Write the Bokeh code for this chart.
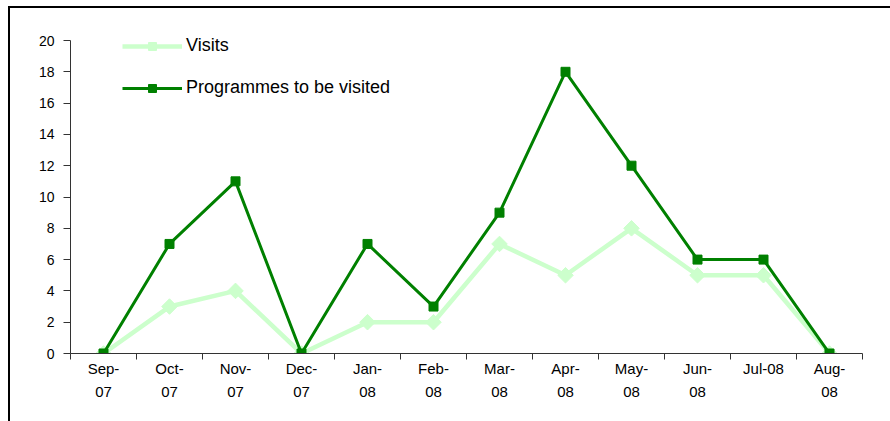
import numpy as np
from bokeh.plotting import figure
from bokeh.models import Range1d, FixedTicker, Legend, LegendItem
from bokeh.embed import file_html
from bokeh.resources import INLINE

months = ["Sep-07", "Oct-07", "Nov-07", "Dec-07", "Jan-08", "Feb-08",
          "Mar-08", "Apr-08", "May-08", "Jun-08", "Jul-08", "Aug-08"]
tick_labels = ["Sep-\n07", "Oct-\n07", "Nov-\n07", "Dec-\n07", "Jan-\n08", "Feb-\n08",
               "Mar-\n08", "Apr-\n08", "May-\n08", "Jun-\n08", "Jul-08", "Aug-\n08"]
visits = [0, 3, 4, 0, 2, 2, 7, 5, 8, 5, 5, 0]
programmes = [0, 7, 11, 0, 7, 3, 9, 18, 12, 6, 6, 0]
y_ticks = [0, 2, 4, 6, 8, 10, 12, 14, 16, 18, 20]

n = len(months)
xs = [i + 0.5 for i in range(n)]

FONT = "Liberation Sans"

# frame extends 10 px above the value 20 so that the legend is not clipped
y_top = 20 * 323 / 313

p = figure(width=880, height=413, output_backend="svg", toolbar_location=None,
           x_range=Range1d(0, n), y_range=Range1d(0, y_top),
           frame_width=792, frame_height=323,
           min_border_left=60, min_border_top=22, min_border_right=28, min_border_bottom=68)
p.outline_line_color = None
p.xgrid.visible = False
p.ygrid.visible = False
p.styles = {"border-left": "2px solid black", "border-top": "2px solid black",
            "margin-left": "8px", "margin-top": "6px"}

# x axis: labels at category centres, ticks at category boundaries
xa = p.xaxis[0]
xa.ticker = FixedTicker(ticks=xs, minor_ticks=list(range(n + 1)))
xa.major_label_overrides = {x: lab for x, lab in zip(xs, tick_labels)}
xa.major_tick_line_color = None
xa.minor_tick_in = 0
xa.minor_tick_out = 6
xa.minor_tick_line_color = "#333333"
xa.axis_line_color = "#333333"
xa.major_label_text_font = FONT
xa.major_label_text_font_size = "15px"
xa.major_label_text_color = "black"
xa.major_label_standoff = 0
xa.major_label_text_line_height = 1.4

ya = p.yaxis[0]
ya.ticker = FixedTicker(ticks=y_ticks)
ya.bounds = (0, 20)
ya.minor_tick_line_color = None
ya.major_tick_in = 0
ya.major_tick_out = 7
ya.major_tick_line_color = "#333333"
ya.axis_line_color = "#333333"
ya.major_label_text_font = FONT
ya.major_label_text_font_size = "14px"
ya.major_label_text_color = "black"
ya.major_label_standoff = 9

light = "#CCFFCC"
dark = "#008000"

l1 = p.line(xs, visits, line_color=light, line_width=4.5)
m1 = p.scatter(xs, visits, marker="square", angle=np.pi / 4, size=11,
               fill_color=light, line_color=light)
l2 = p.line(xs, programmes, line_color=dark, line_width=3)
m2 = p.scatter(xs, programmes, marker="square", size=9, fill_color=dark, line_color=dark)

legend = Legend(items=[LegendItem(label="Visits", renderers=[l1, m1]),
                       LegendItem(label="Programmes to be visited", renderers=[l2, m2])],
                location=(52, 255))
legend.border_line_color = None
legend.background_fill_alpha = 0
legend.padding = 0
legend.margin = 0
legend.spacing = 21
legend.glyph_width = 60
legend.glyph_height = 20
legend.label_height = 20
legend.label_standoff = 4
legend.label_text_font = FONT
legend.label_text_font_size = "18px"
legend.label_text_color = "black"
p.add_layout(legend, "center")

open("out.html", "w").write(file_html(p, INLINE))
